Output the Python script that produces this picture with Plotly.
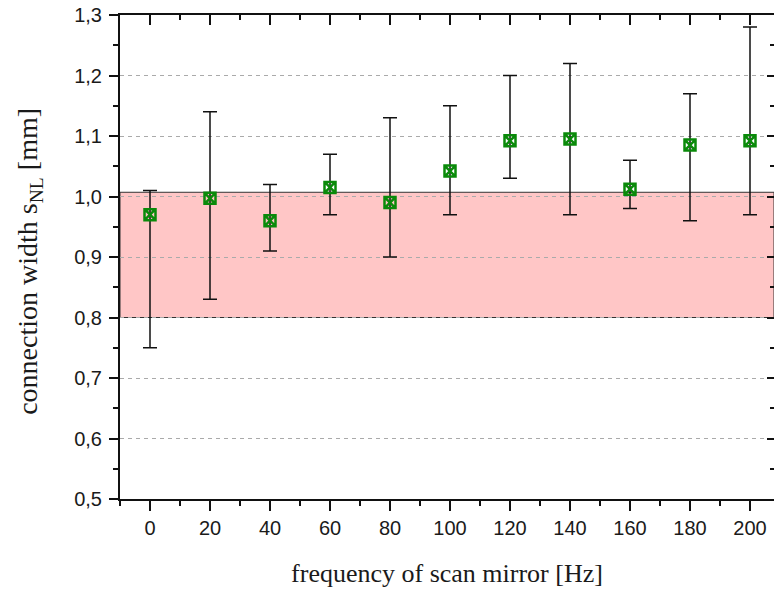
import plotly.graph_objects as go

freq = [0, 20, 40, 60, 80, 100, 120, 140, 160, 180, 200]
width_mean = [0.970, 0.997, 0.960, 1.015, 0.990, 1.042, 1.092, 1.095, 1.012, 1.085, 1.092]
width_max = [1.010, 1.140, 1.020, 1.070, 1.130, 1.150, 1.200, 1.220, 1.060, 1.170, 1.280]
width_min = [0.750, 0.830, 0.910, 0.970, 0.900, 0.970, 1.030, 0.970, 0.980, 0.960, 0.970]
band_low, band_high = 0.80, 1.007

err_plus = [hi - m for hi, m in zip(width_max, width_mean)]
err_minus = [m - lo for lo, m in zip(width_min, width_mean)]

fig = go.Figure()
fig.add_trace(go.Scatter(
    x=freq, y=width_mean, mode="markers",
    marker=dict(symbol="square-x-open", size=11, color="#0a8a0a",
                line=dict(width=2.5, color="#0a8a0a")),
    error_y=dict(type="data", symmetric=False, array=err_plus, arrayminus=err_minus,
                 color="#111111", thickness=1.5, width=7),
    showlegend=False,
))
# invisible trace to carry the mirrored top/right axes
fig.add_trace(go.Scatter(x=freq, y=width_mean, xaxis="x2", yaxis="y2",
                         mode="markers", marker=dict(opacity=0), showlegend=False,
                         hoverinfo="skip"))

fig.add_shape(type="rect", xref="x domain", yref="y", x0=0, x1=1,
              y0=band_low, y1=band_high, fillcolor="#ffc6c6",
              line=dict(color="#333333", width=1), layer="below")

tickfont = dict(family="Liberation Sans, Arial", size=20, color="#1a1a1a")
titlefont = dict(family="Liberation Serif, Times New Roman", size=26, color="#1a1a1a")
xr = [-10, 208]
yr = [0.5, 1.3]

fig.add_annotation(text="connection width s<sub>NL</sub> [mm]", textangle=-90,
                   xref="paper", yref="paper", x=-0.1376, y=0.49,
                   xanchor="center", yanchor="middle", showarrow=False,
                   font=dict(family="Liberation Serif, Times New Roman", size=28,
                             color="#1a1a1a"))

fig.update_layout(
    width=774, height=591,
    margin=dict(l=120, r=0, t=15, b=92),
    paper_bgcolor="white", plot_bgcolor="white",
    separators=",.",
    xaxis=dict(range=xr, tickvals=freq, ticks="outside", ticklen=10, tickwidth=2,
               tickcolor="#111111", showline=True, linecolor="#111111", linewidth=2,
               showgrid=False, zeroline=False, tickfont=tickfont,
               minor=dict(dtick=10, tick0=0, ticks="outside", ticklen=5, tickwidth=2,
                          tickcolor="#111111", showgrid=False),
               title=dict(text="frequency of scan mirror [Hz]", font=titlefont, standoff=26)),
    yaxis=dict(range=yr, dtick=0.1, tick0=0.5, tickformat=".1f", ticks="outside",
               ticklen=9, tickwidth=2, tickcolor="#111111", showline=True,
               linecolor="#111111", linewidth=2, showgrid=True, gridcolor="#aaaaaa",
               griddash="4px,4px", gridwidth=1, zeroline=False, tickfont=tickfont,
               ticklabelstandoff=3,
               minor=dict(dtick=0.05, ticks="outside", ticklen=5, tickwidth=2,
                          tickcolor="#111111", showgrid=False)),
    xaxis2=dict(range=xr, overlaying="x", side="top", anchor="y2", tickvals=freq,
                ticks="inside", ticklen=10, tickwidth=2, tickcolor="#111111",
                showline=True, linecolor="#111111", linewidth=2, showticklabels=False,
                showgrid=False, zeroline=False,
                minor=dict(dtick=10, tick0=0, ticks="inside", ticklen=5, tickwidth=2,
                           tickcolor="#111111", showgrid=False)),
    yaxis2=dict(range=yr, overlaying="y", side="right", anchor="x2", dtick=0.1, tick0=0.5,
                ticks="inside", ticklen=7, tickwidth=2, tickcolor="#111111",
                showline=False, showticklabels=False,
                showgrid=False, zeroline=False,
                minor=dict(dtick=0.05, ticks="inside", ticklen=4, tickwidth=2,
                           tickcolor="#111111", showgrid=False)),
)

fig.write_html("out.html", config={"displayModeBar": False},
               post_script="document.body.style.margin='0';document.body.style.overflow='hidden';")
